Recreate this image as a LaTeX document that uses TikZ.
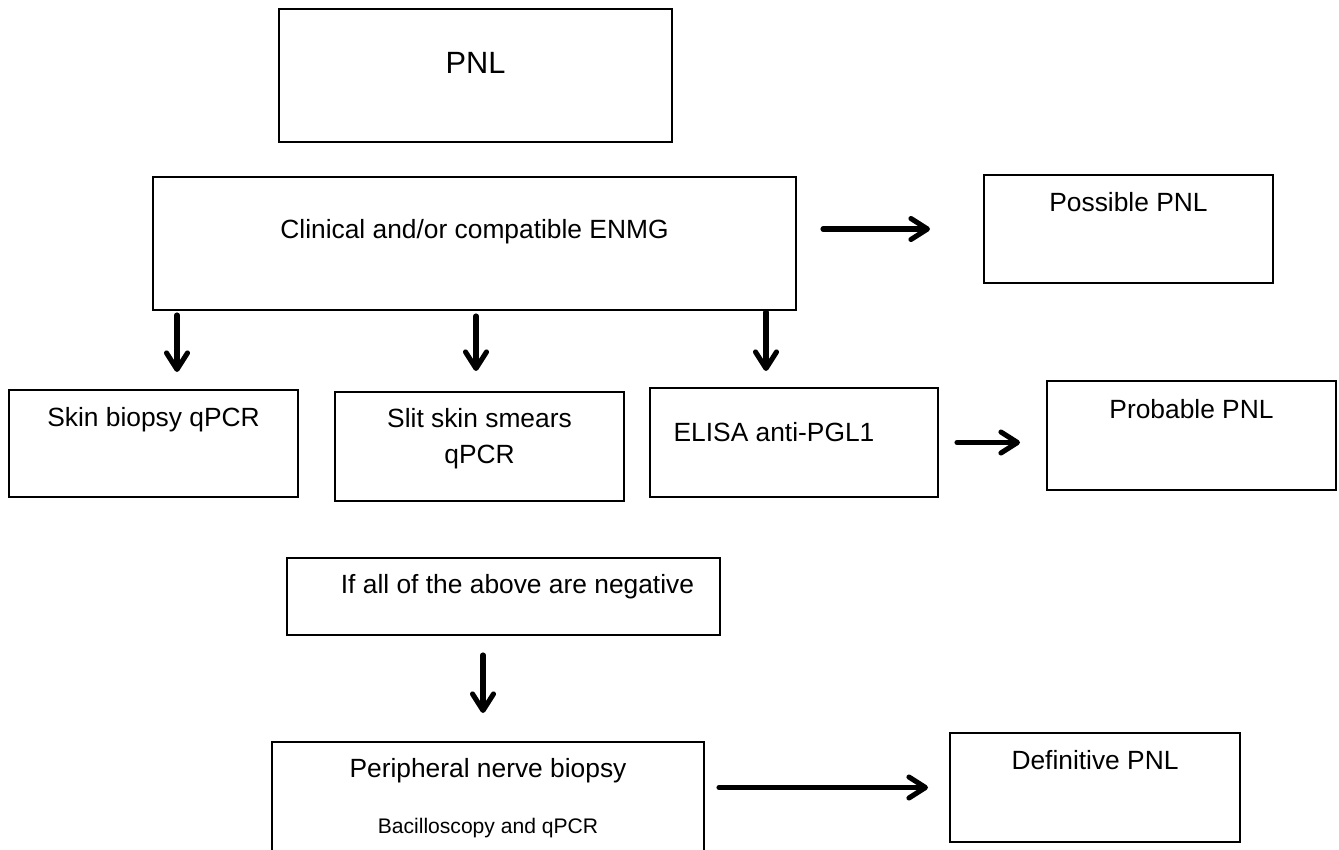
\documentclass[tikz,border=0pt]{standalone}
\usepackage{fontspec}
\setmainfont{Liberation Sans}
\usetikzlibrary{arrows.meta}

\begin{document}
\begin{tikzpicture}[box node/.style={draw, line width=1.1pt, inner sep=0pt, outer sep=0pt},
  txt/.style={anchor=base, align=center, font=\fontsize{15}{20}\selectfont},
  arr/.style={-{Straight Barb[round, length=0.33cm, width=0.42cm]}, line width=2.9pt, line cap=round}]

			\useasboundingbox (0,0) rectangle (26.78,-17);

			% top row
			\node[box node, minimum width=7.86cm, minimum height=2.66cm] (pnl) at (9.51,-1.51)
				[label={[txt, yshift=-1.28cm, font=\fontsize{17.5}{21}\selectfont]north:PNL}] {};
			\node[box node, minimum width=12.86cm, minimum height=2.66cm] (clin) at (9.49,-4.87)
				[label={[txt, yshift=-1.23cm]north:Clinical and/or compatible ENMG}] {};
			\node[box node, minimum width=5.78cm, minimum height=2.16cm] (poss) at (22.57,-4.58)
				[label={[txt, yshift=-0.73cm]north:Possible PNL}] {};

			% tests
			\node[box node, minimum width=5.78cm, minimum height=2.14cm] (skin) at (3.07,-8.87)
				[label={[txt, yshift=-0.73cm]north:Skin biopsy qPCR}] {};
			\node[box node, minimum width=5.78cm, minimum height=2.18cm] (slit) at (9.59,-8.93)
				[label={[txt, yshift=-1.42cm]north:{Slit skin smears\\qPCR}}] {};
			\node[box node, minimum width=5.76cm, minimum height=2.18cm] (elisa) at (15.88,-8.85)
				[label={[txt, xshift=-0.4cm, yshift=-1.07cm]north:ELISA anti-PGL1}] {};
			\node[box node, minimum width=5.78cm, minimum height=2.18cm] (prob) at (23.83,-8.71)
				[label={[txt, yshift=-0.75cm]north:Probable PNL}] {};

			% negative tests
			\node[box node, minimum width=8.66cm, minimum height=1.54cm] (neg) at (10.07,-11.93)
				[label={[txt, xshift=0.28cm, yshift=-0.70cm]north:If all of the above are negative}] {};
			\node[box node, minimum width=8.64cm, minimum height=2.20cm] (nerve) at (9.76,-15.94)
				[label={[txt, yshift=-0.70cm]north:Peripheral nerve biopsy},
				 label={[txt, yshift=-1.82cm, font=\fontsize{12}{14}\selectfont]north:Bacilloscopy and qPCR}] {};
			\node[box node, minimum width=5.80cm, minimum height=2.18cm] (defin) at (21.90,-15.75)
				[label={[txt, yshift=-0.72cm]north:Definitive PNL}] {};

			% arrows
			\draw[arr, shorten <=0.54cm, shorten >=1.08cm] (clin.east |- poss.west) -- (poss.west);
			\draw[arr, shorten <=0.10cm, shorten >=0.36cm] ([xshift=0.47cm]skin.north |- clin.south) -- ([xshift=0.47cm]skin.north);
			\draw[arr, shorten <=0.12cm, shorten >=0.42cm] ([xshift=-0.07cm]slit.north |- clin.south) -- ([xshift=-0.07cm]slit.north);
			\draw[arr, shorten <=0.04cm, shorten >=0.34cm] ([xshift=-0.56cm]elisa.north |- clin.south) -- ([xshift=-0.56cm]elisa.north);
			\draw[arr, shorten <=0.38cm, shorten >=0.54cm] (elisa.east) -- (elisa.east -| prob.west);
			\draw[arr, shorten <=0.40cm, shorten >=0.58cm] ([xshift=-0.41cm]neg.south) -- ([xshift=-0.41cm]neg.south |- nerve.north);
			\draw[arr, shorten <=0.30cm, shorten >=0.44cm] (nerve.east |- defin.west) -- (defin.west);

		\end{tikzpicture}
\end{document}
